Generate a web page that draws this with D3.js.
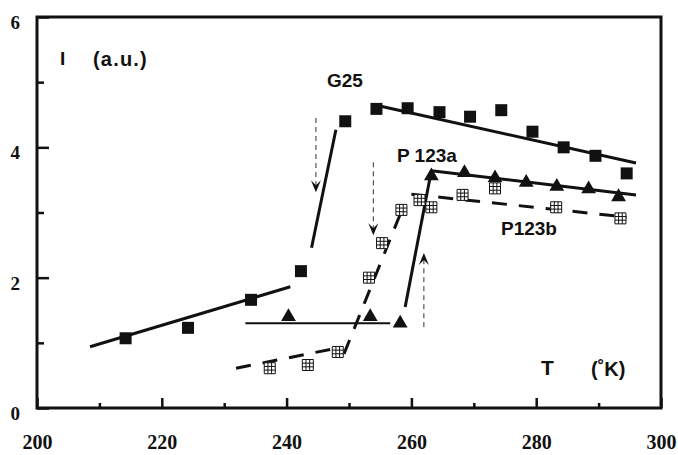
<!DOCTYPE html>
<html>
<head>
<meta charset="utf-8">
<script src="https://cdn.jsdelivr.net/npm/d3@7"></script>
<style>
  body { margin: 0; background: #fff; }
  svg { display: block; }
  .lbl { font-family: "Liberation Sans", Arial, sans-serif; font-weight: bold; fill: #111; }
  .tick text { font-family: "Liberation Serif", "Times New Roman", serif; font-weight: bold; fill: #111; }
</style>
</head>
<body>
<div id="chart"></div>
<script>
// G25 (filled squares)
const g25T = [214.2, 224.2, 234.3, 242.3, 249.4, 254.4, 259.4, 264.5, 269.4, 274.4, 279.4, 284.4, 289.5, 294.5];
const g25I = [1.07, 1.23, 1.66, 2.10, 4.40, 4.59, 4.60, 4.54, 4.47, 4.57, 4.24, 4.00, 3.87, 3.60];

// P 123a (filled triangles)
const p123aT = [240.3, 253.4, 258.2, 263.2, 268.5, 273.4, 278.4, 283.3, 288.4, 293.2];
const p123aI = [1.40, 1.40, 1.30, 3.56, 3.61, 3.53, 3.46, 3.40, 3.36, 3.24];

// P123b (open gridded squares)
const p123bT = [237.3, 243.4, 248.2, 253.2, 255.3, 258.4, 261.3, 263.2, 268.2, 273.4, 283.2, 293.5];
const p123bI = [0.61, 0.66, 0.86, 2.00, 2.53, 3.04, 3.19, 3.08, 3.27, 3.37, 3.08, 2.91];

// fitted segments [T1, I1, T2, I2]
const g25Fits = [[208.5, 0.94, 240.6, 1.86], [244.0, 2.46, 247.9, 4.27], [254.2, 4.65, 296.0, 3.76]];
const p123aFits = [[233.4, 1.30, 256.6, 1.30], [259.0, 1.55, 263.2, 3.64], [263.2, 3.64, 296.0, 3.27]];
const p123bFits = [[231.9, 0.61, 248.1, 0.92], [249.2, 0.83, 258.4, 3.02], [260.0, 3.28, 294.5, 2.93]];

// dashed arrows [T, I from, I to]
const arrows = [[244.7, 4.45, 3.31], [253.9, 3.77, 2.65], [262.0, 1.24, 2.38]];

const xMajor = [200, 220, 240, 260, 280, 300];
const xMinor = [210, 230, 250, 270, 290];
const yMajor = [0, 2, 4, 6];
const yMinor = [1, 3, 5];

const width = 678, height = 455;
const margin = { top: 17, right: 17, bottom: 47, left: 37 };

const svg = d3.select('#chart').append('svg')
    .attr('width', width)
    .attr('height', height);

const x = d3.scaleLinear().domain([200, 300]).range([margin.left, width - margin.right]);
const y = d3.scaleLinear().domain([0, 6]).range([height - margin.bottom, margin.top]);

// axes: ticks point inward
const xAxis = svg.append('g')
    .attr('transform', `translate(0,${y(0)})`)
    .call(d3.axisBottom(x).tickValues(xMajor).tickSize(-10).tickPadding(27).tickFormat(d3.format('d')));
xAxis.selectAll('text').style('font-size', '20px');
svg.append('g')
    .attr('transform', `translate(0,${y(0)})`)
    .call(d3.axisBottom(x).tickValues(xMinor).tickSize(-5).tickFormat(''));

const yAxis = svg.append('g')
    .attr('transform', `translate(${x(200)},0)`)
    .call(d3.axisLeft(y).tickValues(yMajor).tickSize(-12).tickPadding(17).tickFormat(d3.format('d')));
yAxis.selectAll('text').style('font-size', '19px').attr('dy', '0.6em');
svg.append('g')
    .attr('transform', `translate(${x(200)},0)`)
    .call(d3.axisLeft(y).tickValues(yMinor).tickSize(-7).tickFormat(''));

svg.selectAll('.domain').remove();
svg.selectAll('.tick line').attr('stroke', '#111').attr('stroke-width', 2.5);

// frame
svg.append('rect')
    .attr('x', x(200)).attr('y', y(6))
    .attr('width', x(300) - x(200)).attr('height', y(0) - y(6))
    .attr('fill', 'none').attr('stroke', '#111').attr('stroke-width', 3);

// fit lines
function drawFits(data, width, dash) {
    svg.append('g').selectAll('line')
        .data(data)
        .enter()
        .append('line')
        .attr('x1', d => x(d[0])).attr('y1', d => y(d[1]))
        .attr('x2', d => x(d[2])).attr('y2', d => y(d[3]))
        .attr('stroke', '#111')
        .attr('stroke-width', (d, i) => Array.isArray(width) ? width[i] : width)
        .attr('stroke-dasharray', dash);
}
drawFits(g25Fits, 3, null);
drawFits(p123aFits, [2, 3, 3], null);
drawFits(p123bFits, 3, '15,12');

// arrows (thin dashed with barbed heads)
const arrowG = svg.append('g');
arrows.forEach(([t, i0, i1]) => {
    const ax = x(t), ya = y(i0), yb = y(i1);
    const dir = yb > ya ? 1 : -1;
    arrowG.append('line')
        .attr('x1', ax).attr('y1', ya)
        .attr('x2', ax).attr('y2', yb - dir * 4)
        .attr('stroke', '#333').attr('stroke-width', 1)
        .attr('stroke-dasharray', '5,4');
    arrowG.append('path')
        .attr('d', `M${ax},${yb} L${ax - 5},${yb - dir * 12} L${ax},${yb - dir * 7} L${ax + 5},${yb - dir * 12} Z`)
        .attr('fill', '#111');
});

// markers
const g25 = g25T.map((t, i) => ({ t, v: g25I[i] }));
const pa = p123aT.map((t, i) => ({ t, v: p123aI[i] }));
const pb = p123bT.map((t, i) => ({ t, v: p123bI[i] }));

svg.append('g').selectAll('path')
    .data(g25)
    .enter()
    .append('path')
    .attr('transform', d => `translate(${x(d.t)},${y(d.v)})`)
    .attr('d', d3.symbol(d3.symbolSquare, 144))
    .attr('fill', '#111');

svg.append('g').selectAll('path')
    .data(pa)
    .enter()
    .append('path')
    .attr('transform', d => `translate(${x(d.t)},${y(d.v)})`)
    .attr('d', d3.symbol(d3.symbolTriangle, 95))
    .attr('fill', '#111');

const s = 11, h = s / 2, third = s / 3;
const gridSq = `M${-h},${-h}h${s}v${s}h${-s}Z` +
    `M${-h + third},${-h}v${s}M${-h + 2 * third},${-h}v${s}` +
    `M${-h},${-h + third}h${s}M${-h},${-h + 2 * third}h${s}`;
svg.append('g').selectAll('path')
    .data(pb)
    .enter()
    .append('path')
    .attr('transform', d => `translate(${x(d.t)},${y(d.v)})`)
    .attr('d', gridSq)
    .attr('fill', '#fff')
    .attr('stroke', '#111')
    .attr('stroke-width', 1);

// labels
const labels = [
    { text: 'I', x: 60, y: 65, size: 19 },
    { text: '(a.u.)', x: 93, y: 66, size: 20, spacing: 1.2 },
    { text: 'G25', x: 327, y: 87, size: 19 },
    { text: 'P 123a', x: 397, y: 162, size: 19 },
    { text: 'P123b', x: 501, y: 235, size: 19 },
    { text: 'T', x: 541, y: 375, size: 21 },
    { text: '(˚K)', x: 591, y: 376, size: 20 }
];
svg.append('g').selectAll('text')
    .data(labels)
    .enter()
    .append('text')
    .attr('class', 'lbl')
    .attr('x', d => d.x)
    .attr('y', d => d.y)
    .style('font-size', d => d.size + 'px')
    .style('letter-spacing', d => (d.spacing || 0) + 'px')
    .text(d => d.text);
</script>
</body>
</html>
